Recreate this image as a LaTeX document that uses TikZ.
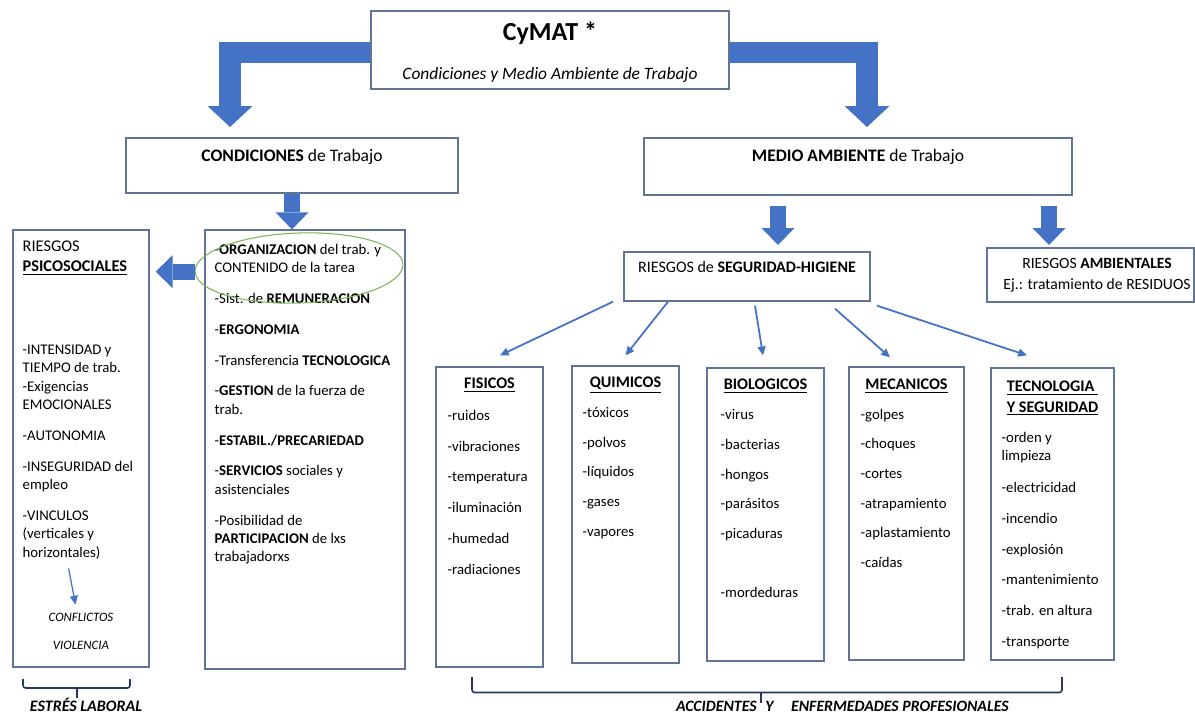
\documentclass[tikz,border=0pt]{standalone}
\usepackage{fontspec}
\setmainfont{Carlito}
\usetikzlibrary{shapes.geometric, arrows.meta, positioning, calc}
\definecolor{cyblue}{RGB}{68,114,196}
\definecolor{boxline}{RGB}{96,116,150}
\definecolor{ovgreen}{RGB}{125,180,90}
\definecolor{bracenavy}{RGB}{38,56,96}
\tikzset{
  box/.style={rectangle, draw=boxline, line width=0.75pt, fill=white, inner sep=0pt},
  headtxt/.style={anchor=base, inner sep=0pt, font=\fontsize{10}{12}\selectfont},
  risktitle/.style={anchor=base, inner sep=0pt, align=center,
    font=\fontsize{9.2}{11.9}\selectfont\bfseries},
  listtxt/.style={anchor=north west, inner sep=0pt, align=left,
    font=\fontsize{8.4}{10.5}\selectfont},
  bigarrow/.style={draw=cyblue, line width=0.44cm,
    -{Triangle[width=0.9cm, length=0.42cm, line width=0pt]}},
  midarrow/.style={draw=cyblue, line width=0.32cm,
    -{Triangle[width=0.66cm, length=0.34cm, line width=0pt]}},
  thinarrow/.style={draw=cyblue, line width=1pt, -{Triangle[width=4.5pt, length=5pt]}},
  bracket/.style={draw=bracenavy, line width=0.9pt, rounded corners=1.5pt},
  bottomtxt/.style={inner sep=0pt, font=\fontsize{9}{11}\selectfont\bfseries\itshape}
}
\begin{document}
\begin{tikzpicture}[x=0.02cm, y=-0.02cm]
\useasboundingbox (0,0) rectangle (1195,713);
\fill [white] (0,0) rectangle (1195,713);

% boxes
\node (cymat) [box, minimum width=7.16cm, minimum height=1.56cm] at (550,50) {};
\node (cond)  [box, minimum width=6.64cm, minimum height=1.1cm]  at (292,165.5) {};
\node (med)   [box, minimum width=8.56cm, minimum height=1.14cm] at (858,166.5) {};
\node (seg)   [box, minimum width=4.92cm, minimum height=0.98cm] at (747,276.5) {};
\node (amb)   [box, minimum width=4.14cm, minimum height=1.08cm] at (1090.5,275) {};
\node (psi)   [box, minimum width=2.72cm, minimum height=8.74cm] at (81,448.5) {};
\node (lst)   [box, minimum width=4cm,    minimum height=8.78cm] at (305,449.5) {};
\node (fis)   [box, minimum width=2.14cm, minimum height=6cm]    at (489.5,517) {};
\node (qui)   [box, minimum width=2.14cm, minimum height=5.94cm] at (625.5,514.5) {};
\node (bio)   [box, minimum width=2.34cm, minimum height=5.86cm] at (765.5,514.5) {};
\node (mec)   [box, minimum width=2.3cm,  minimum height=5.86cm] at (906.5,513.5) {};
\node (tec)   [box, minimum width=2.46cm, minimum height=5.84cm] at (1052.5,514) {};

% headings
\node (cymatT) [anchor=base, inner sep=0pt, font=\fontsize{14.8}{16}\selectfont\bfseries]
  at ([yshift=-0.61cm]cymat.north) {CyMAT *};
\node (cymatS) [anchor=base, inner sep=0pt, font=\fontsize{9.9}{12}\selectfont\itshape]
  at ([yshift=-1.39cm]cymat.north) {Condiciones y Medio Ambiente de Trabajo};
\node (condT) [headtxt] at ([yshift=-0.49cm]cond.north) {\textbf{CONDICIONES} de Trabajo};
\node (medT)  [headtxt] at ([yshift=-0.48cm]med.north) {\textbf{MEDIO AMBIENTE} de Trabajo};
\node (segT)  [headtxt, font=\fontsize{9.1}{11}\selectfont] at ([yshift=-0.42cm]seg.north)
  {RIESGOS de \textbf{SEGURIDAD-HIGIENE}};
\node (ambT)  [inner sep=0pt, align=center, font=\fontsize{8.9}{11.9}\selectfont]
  at ([xshift=0.13cm]amb.center) {RIESGOS \textbf{AMBIENTALES}\\Ej.: tratamiento de RESIDUOS};

% left column
\node (psiT) [listtxt, font=\fontsize{9.3}{11.3}\selectfont]
  at ([xshift=0.2cm, yshift=-0.23cm]psi.north west) {RIESGOS\\\underline{\textbf{PSICOSOCIALES}}};
\node (psiL) [listtxt] at ([xshift=0.2cm, yshift=-2.3cm]psi.north west)
  {-INTENSIDAD y\\TIEMPO de trab.\\-Exigencias\\EMOCIONALES\\[7pt]-AUTONOMIA\\[7pt]%
   -INSEGURIDAD del\\empleo\\[7pt]-VINCULOS\\(verticales y\\horizontales)};
\node (conf) [inner sep=0pt, align=center, font=\fontsize{7.3}{15.9}\selectfont\itshape]
  at ([yshift=-3.65cm]psi.center) {CONFLICTOS\\VIOLENCIA};
\node (lstL) [listtxt] at ([xshift=0.2cm, yshift=-0.29cm]lst.north west)
  {-\textbf{ORGANIZACION} del trab. y\\CONTENIDO de la tarea\\[7pt]%
   -Sist. de \textbf{REMUNERACION}\\[7pt]-\textbf{ERGONOMIA}\\[7pt]%
   -Transferencia \textbf{TECNOLOGICA}\\[7pt]-\textbf{GESTION} de la fuerza de\\trab.\\[7pt]%
   -\textbf{ESTABIL./PRECARIEDAD}\\[7pt]-\textbf{SERVICIOS} sociales y\\asistenciales\\[7pt]%
   -Posibilidad de\\\textbf{PARTICIPACION} de lxs\\trabajadorxs};
\node (ov) [ellipse, draw=ovgreen, line width=0.6pt, minimum width=4.16cm,
  minimum height=1.4cm, rotate=2, inner sep=0pt] at (299,268) {};

% risk groups
\node (fisT) [risktitle] at ([yshift=-0.45cm]fis.north) {\underline{FISICOS}};
\node (quiT) [risktitle] at ([yshift=-0.45cm]qui.north) {\underline{QUIMICOS}};
\node (bioT) [risktitle] at ([yshift=-0.45cm]bio.north) {\underline{BIOLOGICOS}};
\node (mecT) [risktitle] at ([yshift=-0.46cm]mec.north) {\underline{MECANICOS}};
\node (tecT) [risktitle, anchor=north] at ([yshift=-0.26cm]tec.north)
  {\underline{TECNOLOGIA\ }\\\underline{Y SEGURIDAD}};
\node (fisL) [listtxt] at ([xshift=0.24cm, yshift=-0.87cm]fis.north west)
  {-ruidos\\[7pt]-vibraciones\\[7pt]-temperatura\\[7pt]-iluminación\\[7pt]-humedad\\[7pt]-radiaciones};
\node (quiL) [listtxt] at ([xshift=0.22cm, yshift=-0.83cm]qui.north west)
  {-tóxicos\\[6.4pt]-polvos\\[6.4pt]-líquidos\\[6.4pt]-gases\\[6.4pt]-vapores};
\node (bioL) [listtxt] at ([xshift=0.28cm, yshift=-0.83cm]bio.north west)
  {-virus\\[6.5pt]-bacterias\\[6.5pt]-hongos\\[6.5pt]-parásitos\\[6.5pt]-picaduras\\[23pt]-mordeduras};
\node (mecL) [listtxt] at ([xshift=0.24cm, yshift=-0.85cm]mec.north west)
  {-golpes\\[6.3pt]-choques\\[6.3pt]-cortes\\[6.3pt]-atrapamiento\\[6.3pt]-aplastamiento\\[6.3pt]-caídas};
\node (tecL) [listtxt] at ([xshift=0.22cm, yshift=-1.29cm]tec.north west)
  {-orden y\\limpieza\\[7.5pt]-electricidad\\[7pt]-incendio\\[7pt]-explosión\\[7pt]%
   -mantenimiento\\[7pt]-trab. en altura\\[7pt]-transporte};

% block arrows
\coordinate (condtip) at (230,127);
\coordinate (medtip)  at (867,127);
\coordinate (segtip)  at (778,245);
\coordinate (ambtip)  at (1049,245);
\draw [bigarrow] ([yshift=-0.05cm]cymat.west) -| (condtip);
\draw [bigarrow] ([yshift=-0.05cm]cymat.east) -| (medtip);
\draw [midarrow] (cond.south) -- (cond.south |- lst.north);
\draw [midarrow, shorten <=0.2cm] (segtip |- med.south) -- (segtip);
\draw [midarrow, shorten <=0.2cm] (ambtip |- med.south) -- (ambtip);
\draw [midarrow, shorten >=0.12cm] (ov.west) -- (ov.west -| psi.east);

% thin arrows
\draw [thinarrow] ([xshift=-2.68cm]seg.south) -- ([xshift=0.21cm, yshift=0.22cm]fis.north);
\draw [thinarrow] ([xshift=-1.58cm]seg.south) -- ([yshift=0.2cm]qui.north);
\draw [thinarrow] ([xshift=0.16cm, yshift=-0.08cm]seg.south) -- ([xshift=-0.05cm, yshift=0.24cm]bio.north);
\draw [thinarrow] ([xshift=1.76cm, yshift=-0.14cm]seg.south) -- ([xshift=-0.33cm, yshift=0.18cm]mec.north);
\draw [thinarrow] ([xshift=2.6cm, yshift=-0.08cm]seg.south) -- ([xshift=-0.51cm, yshift=0.24cm]tec.north);
\draw [thinarrow, line width=0.7pt, shorten <=0.18cm, shorten >=0.16cm]
  ([xshift=-0.22cm]psiL.south) -- ([xshift=-0.08cm]conf.north);

% brackets
\draw [bracket] (23,679) -- (23,688) -- (130,688) -- (130,679);
\draw [bracket] (77,688) -- (77,698);
\node (estres) [bottomtxt, anchor=base, font=\fontsize{9.1}{11}\selectfont\bfseries\itshape]
  at (86,711) {ESTRÉS LABORAL};
\draw [bracket] (472,677) -- (472,692.5) -- (1062,692.5) -- (1062,677);
\draw [bracket] (761,692.5) -- (761,703);
\node (acc) [bottomtxt, anchor=base east] at (757,711.5) {ACCIDENTES};
\node (enf) [bottomtxt, anchor=base west] at (765,711.5) {Y\hspace{10pt}ENFERMEDADES PROFESIONALES};
\end{tikzpicture}
\end{document}
